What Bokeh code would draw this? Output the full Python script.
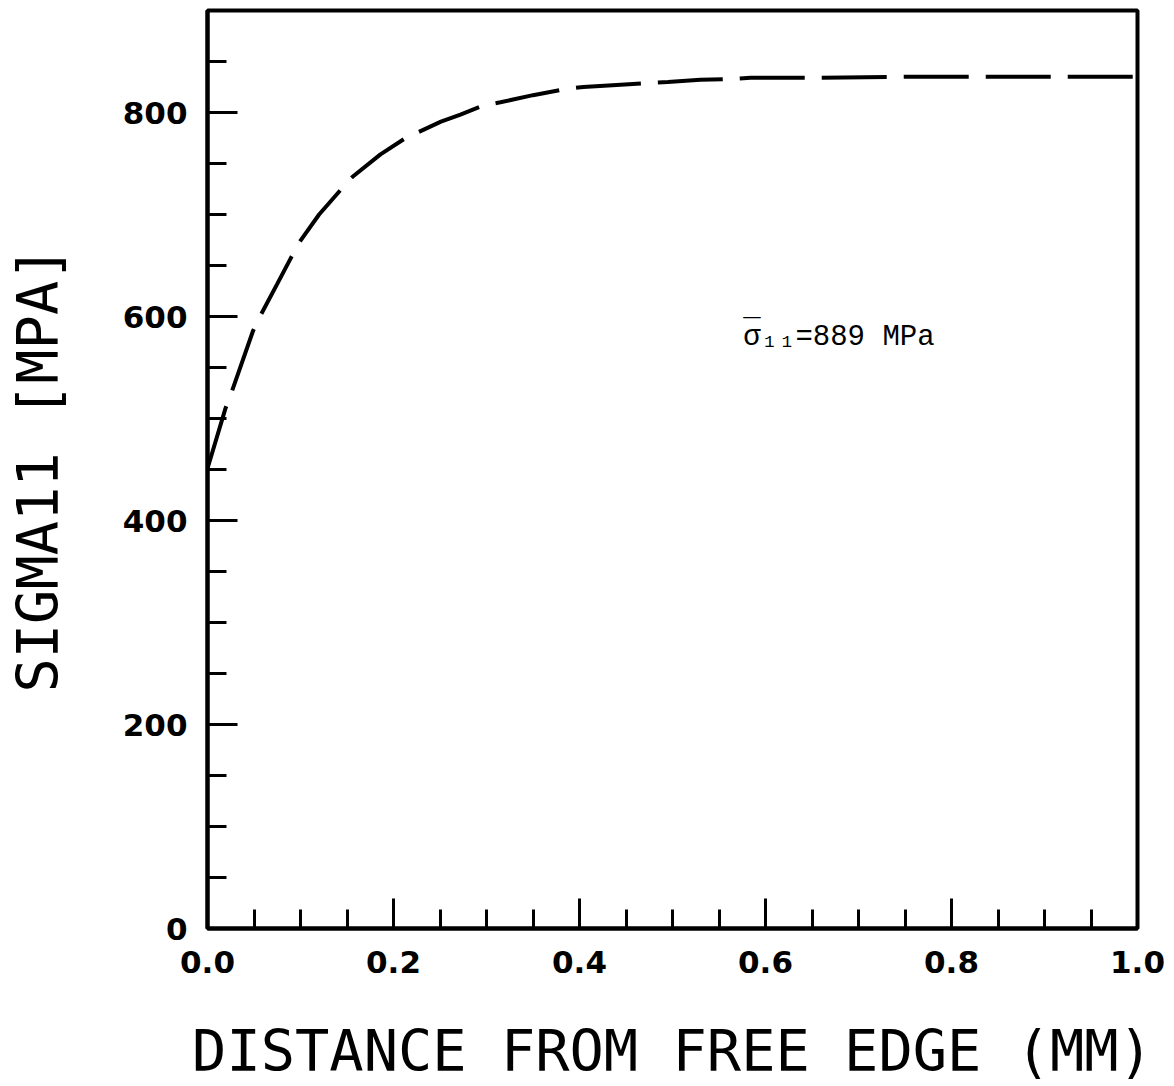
from bokeh.plotting import figure
from bokeh.models import FixedTicker, Range1d, Label
from bokeh.embed import file_html
from bokeh.resources import INLINE

# data
distance_mm = [0.0, 0.019, 0.026, 0.049, 0.057, 0.075, 0.090, 0.099, 0.120, 0.143,
               0.156, 0.186, 0.213, 0.232, 0.251, 0.272, 0.297, 0.315, 0.350, 0.385,
               0.404, 0.440, 0.476, 0.495, 0.530, 0.566, 0.584, 0.657, 0.750, 0.850, 1.0]
sigma11_mpa = [451, 509, 526, 586, 601, 632, 658, 673, 700, 724,
               737, 759, 775, 783, 791, 798, 807, 810, 817, 823,
               825, 827, 829, 830, 832, 833, 834, 834, 835, 835, 835]

x_major = [0.0, 0.2, 0.4, 0.6, 0.8, 1.0]
x_minor = [i * 0.05 for i in range(21)]
y_major = [0, 200, 400, 600, 800]
y_minor = [i * 50 for i in range(18)]
x_tick_labels = {0.0: "0.0", 0.2: "0.2", 0.4: "0.4", 0.6: "0.6", 0.8: "0.8", 1.0: "1.0"}

annotation_text = "σ\u2081\u2081=889 MPa"
annotation_bar = "\u203e"
annotation_x, annotation_y = 0.576, 579

p = figure(width=1174, height=1086, output_backend="svg", toolbar_location=None,
           x_range=Range1d(0, 1.0), y_range=Range1d(0, 900),
           min_border_left=207, min_border_right=37, min_border_top=10, min_border_bottom=158)

p.background_fill_color = "white"
p.border_fill_color = "white"
p.outline_line_color = "black"
p.outline_line_width = 4
p.xgrid.visible = False
p.ygrid.visible = False

p.line(distance_mm, sigma11_mpa, line_color="black", line_width=4, line_dash="65 17")

for ax in (p.xaxis[0], p.yaxis[0]):
    ax.axis_line_width = 4
    ax.axis_line_color = "black"
    ax.major_tick_in = 30
    ax.major_tick_out = 0
    ax.minor_tick_in = 19
    ax.minor_tick_out = 0
    ax.major_tick_line_width = 3
    ax.minor_tick_line_width = 3
    ax.major_tick_line_color = "black"
    ax.minor_tick_line_color = "black"
    ax.major_label_text_font = "DejaVu Sans"
    ax.major_label_text_font_style = "bold"
    ax.major_label_text_font_size = "31px"
    ax.major_label_text_color = "black"
    ax.axis_label_text_font = "DejaVu Sans Mono"
    ax.axis_label_text_font_style = "normal"
    ax.axis_label_text_font_size = "57px"
    ax.axis_label_text_color = "black"

p.xaxis[0].ticker = FixedTicker(ticks=x_major, minor_ticks=x_minor)
p.xaxis[0].major_label_overrides = x_tick_labels
p.xaxis[0].major_label_standoff = 22
p.xaxis[0].axis_label = "DISTANCE FROM FREE EDGE (MM)"
p.xaxis[0].axis_label_standoff = 42

p.yaxis[0].ticker = FixedTicker(ticks=y_major, minor_ticks=y_minor)
p.yaxis[0].major_label_standoff = 20
p.yaxis[0].axis_label = "SIGMA11 [MPA]"
p.yaxis[0].axis_label_standoff = 49

p.add_layout(Label(x=annotation_x, y=annotation_y, text=annotation_text,
                   text_font="Liberation Mono", text_font_size="29px",
                   text_color="black", text_baseline="alphabetic"))
p.add_layout(Label(x=annotation_x, y=annotation_y, y_offset=6, text=annotation_bar,
                   text_font="Liberation Mono", text_font_size="29px",
                   text_color="black", text_baseline="alphabetic"))

open("out.html", "w").write(file_html(p, INLINE))
